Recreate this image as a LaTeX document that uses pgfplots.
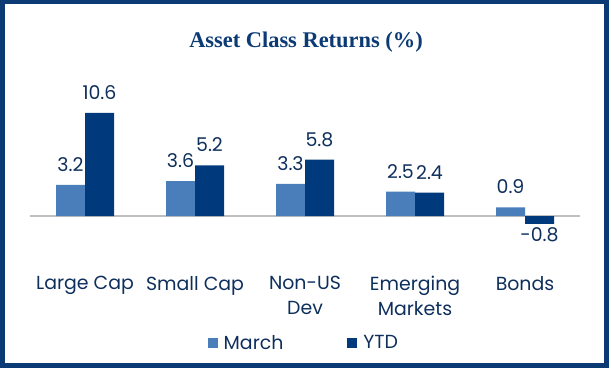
\documentclass[border=0pt]{standalone}
\usepackage{fontspec}
\setmainfont{Poppins}
\newfontfamily\titlefont{Liberation Serif}
\usepackage{pgfplots}
\pgfplotsset{compat=1.18}
\definecolor{navy}{HTML}{0B3A74}
\definecolor{txt}{HTML}{0E2F5C}
\definecolor{march}{HTML}{4A7EBB}
\definecolor{ytd}{HTML}{003A7D}
\begin{document}
\begin{tikzpicture}[x=1bp,y=1bp]
\path[use as bounding box] (0,0) rectangle (612,370);
\draw[navy, line width=5bp] (2.5,4.5) rectangle (606,368);
\node[text=navy, font=\titlefont\bfseries\fontsize{22.5}{26}\selectfont] at (306,328) {Asset Class Returns (\%)};
\begin{axis}[
  at={(30bp,105.4bp)}, anchor=south west,
  scale only axis, width=550bp, height=165.24bp,
  xmin=-0.5, xmax=4.5, ymin=-5, ymax=12,
  axis line style={draw=none}, major tick length=0pt, ytick=\empty, clip=false,
  ybar, bar width=29bp,
  xtick={0,1,2,3,4},
  xticklabels={Large Cap, Small Cap, {Non-US\\Dev}, {Emerging\\Markets}, Bonds},
  xticklabel style={font=\fontsize{19}{25}\selectfont, text=txt, align=center, anchor=north, yshift=-8bp},
  point meta=y,
  nodes near coords={\pgfmathprintnumber[fixed, fixed zerofill, precision=1, assume math mode=true]{\pgfplotspointmeta}\rule[-10bp]{0pt}{10bp}},
  every node near coord/.append style={font=\fontsize{19}{24}\selectfont, text=txt},
  legend style={at={(0.498,-0.4746)}, anchor=center, draw=none, fill=none, legend columns=2,
    font=\fontsize{19}{24}\selectfont, text=txt,
    /tikz/every odd column/.append style={column sep=4bp},
    /tikz/every even column/.append style={column sep=62bp}},
  legend image code/.code={\fill[#1] (0bp,-5bp) rectangle (10bp,5bp);},
]
\draw[gray!50, line width=1.5bp] (axis cs:-0.5,0) -- (axis cs:4.5,0);
\addplot[fill=march, draw=none, bar shift=-14.5bp] coordinates {(0,3.2) (1,3.6) (2,3.3) (3,2.5) (4,0.9)};
\addplot[fill=ytd, draw=none, bar shift=14.5bp] coordinates {(0,10.6) (1,5.2) (2,5.8) (3,2.4) (4,-0.8)};
\legend{March, YTD}
\end{axis}
\end{tikzpicture}
\end{document}
